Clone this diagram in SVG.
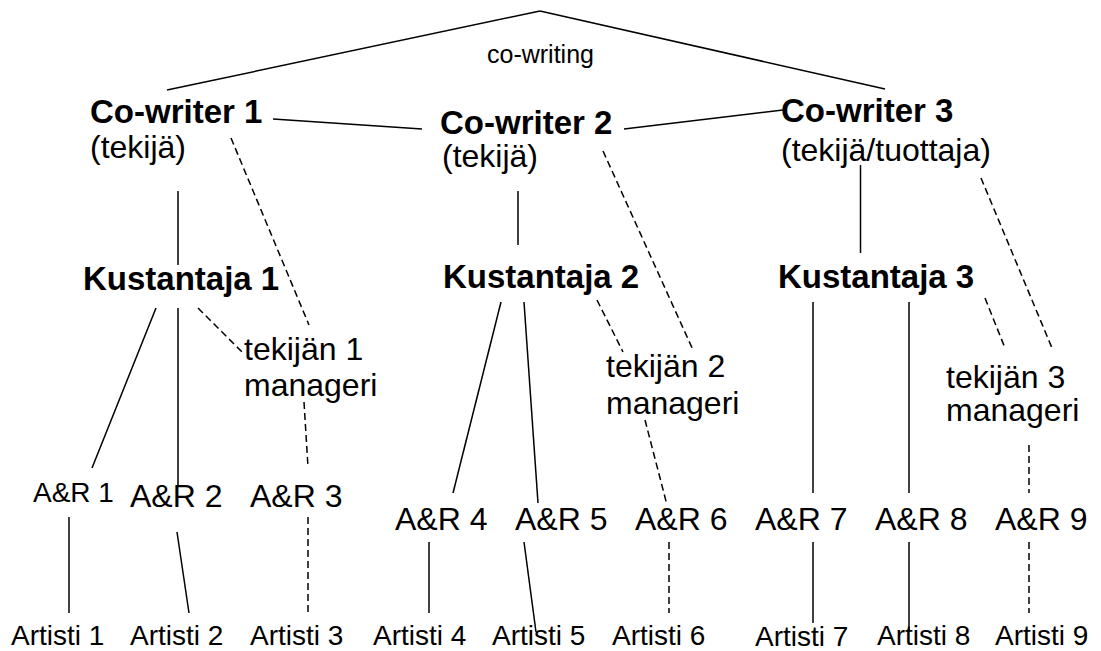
<svg xmlns="http://www.w3.org/2000/svg" width="1101" height="651" viewBox="0 0 1101 651">
<style>
text{font-family:"Liberation Sans",Arial,sans-serif;fill:#000}
.b{font-weight:bold;font-size:33px}
.r{font-size:32px}
.s{font-size:28px}
.ar{font-size:32px}
.sm{font-size:25px}
line{stroke:#000;stroke-width:1.5}
.d{stroke-dasharray:7 4}
</style>
<rect width="1101" height="651" fill="#fff"/>
<g id="connectors">
<line x1="167" y1="90" x2="540" y2="11"/>
<line x1="540" y1="11" x2="885" y2="89"/>
<line x1="273" y1="119" x2="422" y2="129"/>
<line x1="624" y1="129" x2="783" y2="110"/>
<line x1="178" y1="191" x2="178" y2="265"/>
<line x1="518" y1="191" x2="518" y2="245"/>
<line x1="860.5" y1="165" x2="860.5" y2="253"/>
<line x1="156" y1="308" x2="92" y2="468"/>
<line x1="178" y1="308" x2="178" y2="487"/>
<line x1="501" y1="302" x2="453" y2="493"/>
<line x1="524" y1="302" x2="538" y2="503"/>
<line x1="813" y1="302" x2="813" y2="493"/>
<line x1="909" y1="302" x2="909" y2="493"/>
<line x1="69" y1="517" x2="69" y2="613"/>
<line x1="177" y1="532" x2="189" y2="613"/>
<line x1="429" y1="542" x2="429" y2="613"/>
<line x1="524" y1="542" x2="536" y2="632"/>
<line x1="813" y1="542" x2="813" y2="623"/>
<line x1="909" y1="542" x2="909" y2="632"/>
<line class="d" x1="231" y1="138" x2="309" y2="325"/>
<line class="d" x1="198" y1="308" x2="242" y2="352"/>
<line class="d" x1="304" y1="402" x2="308" y2="467"/>
<line class="d" x1="308" y1="517" x2="308" y2="613"/>
<line class="d" x1="603" y1="151" x2="693" y2="350"/>
<line class="d" x1="597" y1="300" x2="623" y2="352"/>
<line class="d" x1="645" y1="420" x2="667" y2="505"/>
<line class="d" x1="669" y1="542" x2="669" y2="613"/>
<line class="d" x1="981" y1="178" x2="1052" y2="348"/>
<line class="d" x1="985" y1="298" x2="1005" y2="348"/>
<line class="d" x1="1029" y1="445" x2="1029" y2="493"/>
<line class="d" x1="1029" y1="542" x2="1029" y2="613"/>
</g>
<g id="label-cowriting"><text class="sm" x="487" y="63">co-writing</text></g>
<g id="cowriter1"><text class="b" x="90" y="123">Co-writer 1</text><text class="r" x="90" y="158">(tekijä)</text></g>
<g id="cowriter2"><text class="b" x="440" y="134">Co-writer 2</text><text class="r" x="442" y="167">(tekijä)</text></g>
<g id="cowriter3"><text class="b" x="781" y="122">Co-writer 3</text><text class="r" x="781" y="161">(tekijä/tuottaja)</text></g>
<g id="kustantaja1"><text class="b" x="83" y="290">Kustantaja 1</text></g>
<g id="kustantaja2"><text class="b" x="443" y="288">Kustantaja 2</text></g>
<g id="kustantaja3"><text class="b" x="778" y="288">Kustantaja 3</text></g>
<g id="manageri1"><text class="r" x="244" y="360">tekijän 1</text><text class="r" x="244" y="396">manageri</text></g>
<g id="manageri2"><text class="r" x="606" y="377">tekijän 2</text><text class="r" x="606" y="414">manageri</text></g>
<g id="manageri3"><text class="r" x="946" y="388">tekijän 3</text><text class="r" x="946" y="421">manageri</text></g>
<g id="ar1"><text class="s" x="33" y="502">A&amp;R 1</text></g>
<g id="ar2"><text class="ar" x="130" y="507">A&amp;R 2</text></g>
<g id="ar3"><text class="ar" x="250" y="507">A&amp;R 3</text></g>
<g id="ar4"><text class="ar" x="395" y="530">A&amp;R 4</text></g>
<g id="ar5"><text class="ar" x="515" y="530">A&amp;R 5</text></g>
<g id="ar6"><text class="ar" x="635" y="530">A&amp;R 6</text></g>
<g id="ar7"><text class="ar" x="755" y="530">A&amp;R 7</text></g>
<g id="ar8"><text class="ar" x="875" y="530">A&amp;R 8</text></g>
<g id="ar9"><text class="ar" x="995" y="530">A&amp;R 9</text></g>
<g id="artisti1"><text class="s" x="11" y="645">Artisti 1</text></g>
<g id="artisti2"><text class="s" x="130" y="645">Artisti 2</text></g>
<g id="artisti3"><text class="s" x="250" y="645">Artisti 3</text></g>
<g id="artisti4"><text class="s" x="373" y="645">Artisti 4</text></g>
<g id="artisti5"><text class="s" x="492" y="645">Artisti 5</text></g>
<g id="artisti6"><text class="s" x="612" y="645">Artisti 6</text></g>
<g id="artisti7"><text class="s" x="755" y="646">Artisti 7</text></g>
<g id="artisti8"><text class="s" x="877" y="645">Artisti 8</text></g>
<g id="artisti9"><text class="s" x="995" y="645">Artisti 9</text></g>
</svg>
